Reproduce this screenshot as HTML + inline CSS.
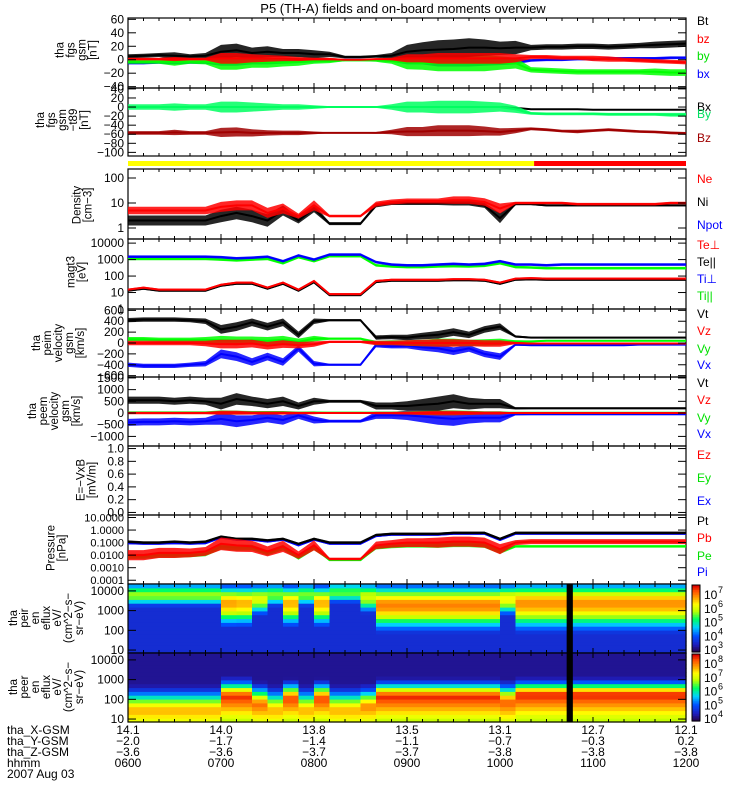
<!DOCTYPE html>
<html><head><meta charset="utf-8"><style>
html,body{margin:0;padding:0;background:#fff;}
svg{display:block;font-family:"Liberation Sans",sans-serif;}
</style></head><body>
<svg id="plot" width="750" height="800" viewBox="0 0 750 800" xmlns="http://www.w3.org/2000/svg">
<text x="403" y="13" font-size="13" text-anchor="middle">P5 (TH-A) fields and on-board moments overview</text>
<g id="layer"></g>
</svg>
<script>
// ---------- data (10-minute samples, minutes after 0600) ----------
const times=[0,10,20,30,40,50,60,70,80,90,100,110,120,130,140,150,160,170,180,190,200,210,220,230,240,250,260,270,280,290,300,310,320,330,340,350,360];
// fgs gsm [nT]
const fgsBt=[5,6,7,6,5,6,12,14,10,12,10,10,8,8,4,4,5,6,12,14,15,16,18,18,17,18,18,19,19,20,20,19,20,21,22,23,24];
const fgsBtSpread=[3,3,3,5,3,4,10,10,8,8,6,6,6,4,2,2,2,4,10,12,14,14,14,12,10,10,4,4,4,4,4,4,4,4,5,5,5];
const fgsBz=[1,1,1,1,1,1,2,2,2,2,2,1,1,1,0,0,1,1,2,2,2,2,2,2,2,2,4,4,3,3,2,1,0,-1,-2,-3,-4];
const fgsBzSpread=[2,2,2,3,2,2,8,8,6,5,4,3,2,2,1,1,1,2,6,6,8,8,8,8,8,6,3,3,3,3,4,4,3,3,3,3,3];
const fgsBy=[-3,-3,-3,-3,-3,-3,-5,-5,-4,-4,-4,-3,-2,-2,-1,-1,-1,-2,-4,-5,-5,-5,-5,-5,-5,-5,-15,-16,-17,-18,-18,-18,-18,-18,-18,-19,-19];
const fgsBySpread=[3,3,3,6,3,4,10,10,8,8,6,6,4,3,1,1,2,4,10,10,12,12,12,12,10,8,4,4,4,4,4,4,4,4,5,5,5];
const fgsBx=[-5,-5,-4,-4,-4,-4,-4,-4,-3,-3,-3,-2,-2,-1,0,0,0,-1,-2,-2,-3,-3,-3,-3,-3,-3,-1,0,0,1,1,2,2,2,2,3,3];
const fgsBxSpread=[2,2,2,3,2,2,5,5,4,4,3,3,2,2,1,1,1,2,5,5,7,7,7,6,5,4,2,2,2,2,2,2,2,2,2,2,2];
// fgs gsm - t89 [nT]
const t89Bx=[0,0,0,0,0,0,0,0,0,0,0,0,0,0,0,0,0,0,0,0,0,0,0,0,0,-2,-5,-5,-5,-5,-6,-6,-6,-6,-6,-6,-6];
const t89By=[0,0,0,0,0,0,0,0,0,0,0,0,0,0,0,0,0,0,0,0,0,0,0,0,0,-5,-14,-15,-15,-15,-15,-16,-16,-16,-16,-17,-17];
const t89BySpread=[6,6,6,8,6,6,12,12,10,8,6,6,4,2,1,1,2,6,12,12,14,14,14,12,10,8,3,3,3,3,3,3,3,3,3,4,4];
const t89Bz=[-57,-57,-57,-56,-57,-57,-56,-55,-57,-57,-57,-57,-57,-57,-57,-57,-57,-55,-54,-54,-52,-52,-52,-53,-55,-52,-48,-50,-53,-54,-52,-50,-52,-54,-55,-57,-58];
const t89BzSpread=[4,4,4,6,4,4,10,10,8,6,5,5,3,1,1,1,2,5,10,10,12,12,12,10,8,6,3,3,3,4,3,3,3,3,3,3,3];
// density [cm-3]
const densNe=[5,5,5,5,5,5,7,8,8,4,6,3,8,3,3,3,9,11,12,12,12,13,13,11,6,10,10,10,10,9,9,9,9,9,9,10,10];
const densNi=[2,2,2,2,2,2,3,4,3,2,5,2,6,1.5,1.5,1.5,8,10,10,10,10,10,10,8,2.5,9,9,8,8,8,8,8,8,8,8,8,8];
const densNeSpread=[0.15,0.15,0.15,0.15,0.15,0.15,0.2,0.2,0.2,0.2,0.2,0.1,0.2,0.05,0.05,0.05,0.1,0.1,0.1,0.1,0.1,0.15,0.15,0.15,0.2,0.05,0.05,0.05,0.05,0.05,0.05,0.05,0.05,0.05,0.05,0.05,0.05];
const densNiSpread=[0.2,0.2,0.2,0.2,0.2,0.2,0.25,0.25,0.25,0.25,0.2,0.12,0.15,0.06,0.06,0.06,0.08,0.08,0.08,0.08,0.08,0.1,0.1,0.1,0.2,0.04,0.04,0.04,0.04,0.04,0.04,0.04,0.04,0.04,0.04,0.04,0.04];
// temperatures [eV]
const tempTiPerp=[1500,1500,1500,1500,1500,1500,1400,1200,1300,1500,800,1800,1000,2000,2000,2000,700,500,450,450,500,550,500,550,800,500,500,450,500,500,500,500,500,500,500,500,500];
const tempTiPar=[1100,1100,1100,1100,1100,1100,1000,900,1000,1100,600,1400,800,1600,1600,1600,450,380,350,350,380,400,380,420,600,350,330,300,300,300,300,300,300,300,300,300,300];
const tempTePerp=[15,20,15,15,15,15,30,40,40,20,40,15,50,8,8,8,50,60,60,60,60,65,65,60,40,70,75,70,70,70,70,70,70,70,70,70,70];
const tempTePar=[13,17,13,13,13,13,26,34,34,17,34,13,42,7,7,7,43,52,52,52,52,56,56,52,34,60,63,60,60,60,60,60,60,60,60,60,60];
// peim velocity [km/s]
const peimVt=[420,430,430,430,420,400,250,300,380,300,380,150,400,420,420,420,100,110,100,130,150,200,150,250,300,120,100,100,100,100,100,100,100,100,100,100,100];
const peimVx=[-400,-420,-420,-420,-400,-380,-200,-250,-350,-250,-350,-100,-380,-400,-400,-400,-40,-60,-50,-80,-100,-150,-100,-200,-250,-30,-40,-40,-40,-40,-40,-40,-40,-30,-30,-30,-30];
const peimVy=[70,70,60,60,60,60,50,40,50,40,60,20,80,80,80,80,0,10,0,0,10,10,0,10,20,30,30,40,40,40,40,40,40,40,40,40,40];
const peimVz=[0,0,0,0,0,-10,-20,-20,-10,-50,-20,-40,-20,20,20,20,0,0,0,0,0,0,0,-10,-10,0,-10,-10,-10,-10,-10,-10,-10,-10,-10,-10,-10];
const peimSpread=[40,40,40,40,40,50,80,80,70,70,70,60,50,20,20,20,40,40,50,60,70,70,60,60,60,20,15,15,15,15,15,15,15,15,15,15,15];
// peem velocity [km/s]
const peemVt=[550,550,550,500,550,500,400,600,500,400,500,300,500,500,500,500,300,300,300,350,400,500,400,400,400,200,200,200,200,200,200,200,200,200,200,200,200];
const peemVx=[-400,-380,-380,-350,-380,-350,-250,-350,-300,-200,-300,-100,-300,-350,-350,-350,-100,-100,-100,-150,-200,-250,-200,-200,-200,-50,-50,-50,-50,-50,-50,-50,-50,-50,-50,-50,-50];
const peemVy=[20,20,20,20,20,20,30,20,20,20,20,10,20,20,20,20,10,10,10,10,10,10,10,10,10,10,10,10,10,10,10,10,10,10,10,10,10];
const peemVz=[0,0,0,0,0,0,10,10,0,0,0,0,0,0,0,0,0,0,0,0,0,0,0,0,0,0,0,0,0,0,0,0,0,0,0,0,0];
const peemSpread=[150,150,150,150,150,150,250,250,200,200,200,150,150,60,60,60,150,150,200,250,300,300,250,200,200,50,40,40,40,40,40,40,40,40,40,40,40];
// pressure [nPa]
const presPt=[0.12,0.1,0.1,0.12,0.1,0.12,0.3,0.2,0.2,0.15,0.2,0.08,0.2,0.1,0.1,0.1,0.4,0.5,0.5,0.5,0.5,0.6,0.6,0.6,0.2,0.6,0.6,0.6,0.6,0.6,0.6,0.6,0.6,0.6,0.6,0.6,0.6];
const presPi=[0.09,0.08,0.08,0.09,0.08,0.09,0.25,0.17,0.17,0.12,0.17,0.06,0.17,0.08,0.08,0.08,0.33,0.42,0.42,0.42,0.42,0.5,0.5,0.5,0.16,0.5,0.5,0.5,0.5,0.5,0.5,0.5,0.5,0.5,0.5,0.5,0.5];
const presPb=[0.01,0.01,0.015,0.015,0.015,0.02,0.08,0.06,0.05,0.02,0.05,0.01,0.06,0.005,0.005,0.005,0.06,0.08,0.1,0.1,0.1,0.12,0.12,0.1,0.03,0.1,0.12,0.12,0.12,0.12,0.12,0.12,0.12,0.12,0.12,0.12,0.12];
const presPe=[0.008,0.008,0.01,0.01,0.01,0.012,0.05,0.04,0.04,0.015,0.04,0.006,0.04,0.004,0.004,0.004,0.04,0.05,0.06,0.06,0.06,0.07,0.07,0.06,0.02,0.05,0.05,0.05,0.05,0.05,0.05,0.05,0.05,0.05,0.05,0.05,0.05];
const presSpread=[0.4,0.4,0.4,0.4,0.35,0.35,0.5,0.5,0.45,0.4,0.45,0.3,0.4,0.1,0.1,0.1,0.3,0.3,0.35,0.35,0.4,0.4,0.4,0.4,0.4,0.2,0.2,0.2,0.2,0.2,0.2,0.2,0.2,0.2,0.2,0.2,0.2];
// spectrograms: one column per 10-min interval
const ionPeak=[3.8,3.8,3.8,3.8,3.8,3.8,3.4,3.4,3.6,3.8,3.4,3.8,3.4,3.9,3.9,3.7,3.3,3.3,3.3,3.3,3.3,3.3,3.3,3.3,3.6,3.4,3.4,3.4,3.4,3.4,3.4,3.4,3.4,3.4,3.4,3.4];
const ionLoWidth=[0.5,0.5,0.5,0.5,0.5,0.5,1.0,1.0,0.7,0.5,1.0,0.5,1.0,0.45,0.45,0.7,1.1,1.1,1.1,1.1,1.1,1.1,1.1,1.1,0.7,1.2,1.2,1.2,1.2,1.2,1.2,1.2,1.2,1.2,1.2,1.2];
const ionHiWidth=[0.6,0.6,0.6,0.6,0.6,0.6,0.8,0.8,0.7,0.6,0.8,0.6,0.8,0.6,0.6,0.7,0.9,0.9,0.9,0.9,0.9,0.9,0.9,0.9,0.7,0.9,0.9,0.9,0.9,0.9,0.9,0.9,0.9,0.9,0.9,0.9];
const ionLevel=[0.6,0.6,0.6,0.6,0.6,0.6,0.82,0.8,0.68,0.58,0.8,0.58,0.8,0.55,0.55,0.65,0.86,0.86,0.86,0.86,0.86,0.86,0.86,0.86,0.72,0.84,0.84,0.84,0.84,0.84,0.84,0.84,0.84,0.84,0.84,0.84];
const elePeak=[1.4,1.4,1.4,1.4,1.4,1.4,2.1,2.1,1.7,1.4,2.0,1.4,2.0,1.4,1.4,1.6,2.1,2.1,2.1,2.1,2.1,2.1,2.1,2.1,1.8,2.2,2.2,2.2,2.2,2.2,2.2,2.2,2.2,2.2,2.2,2.2];
const eleHiWidth=[0.9,0.9,0.9,0.9,0.9,0.9,0.7,0.7,0.8,0.9,0.7,0.9,0.7,0.9,0.9,0.8,0.65,0.65,0.65,0.65,0.65,0.65,0.65,0.65,0.8,0.6,0.6,0.6,0.6,0.6,0.6,0.6,0.6,0.6,0.6,0.6];
const eleLevel=[0.8,0.8,0.8,0.8,0.8,0.8,0.95,0.95,0.88,0.8,0.93,0.8,0.93,0.8,0.8,0.85,0.96,0.96,0.96,0.96,0.96,0.96,0.96,0.96,0.9,0.97,0.97,0.97,0.97,0.97,0.97,0.97,0.97,0.97,0.97,0.97];
const gapStart=[283];
const gapEnd=[287];
// axes / labels
const hourLabels=["0600","0700","0800","0900","1000","1100","1200"];
const xGsm=["14.1","14.0","13.8","13.5","13.1","12.7","12.1"];
const yGsm=["\u22122.0","\u22121.7","\u22121.4","\u22121.1","\u22120.7","\u22120.3","0.2"];
const zGsm=["\u22123.6","\u22123.6","\u22123.7","\u22123.7","\u22123.8","\u22123.8","\u22123.8"];

// ---------- drawing ----------
const NS="http://www.w3.org/2000/svg";
const layer=document.getElementById('layer');
const X0=128,X1=686,TMAX=360;
function xs(t){return X0+(t/TMAX)*(X1-X0);}
function mk(tag,attrs,parent){const e=document.createElementNS(NS,tag);for(const k in attrs)e.setAttribute(k,attrs[k]);(parent||layer).appendChild(e);return e;}
function linScale(top,bot,vmax,vmin){return v=>top+(vmax-v)/(vmax-vmin)*(bot-top);}
function logScale(top,bot,lmax,lmin){return v=>top+(lmax-Math.log10(Math.max(v,1e-9)))/(lmax-lmin)*(bot-top);}

function frame(name,top,bot){
  const r=mk('rect',{x:X0,y:top,width:X1-X0,height:bot-top,fill:'none',stroke:'#000','stroke-width':1.2});
  
  
  for(let m=0;m<=TMAX;m+=10){
    const len=(m%60===0)?5:3;const x=xs(m);
    mk('line',{x1:x,y1:top,x2:x,y2:top+len,stroke:'#000','stroke-width':1});
    mk('line',{x1:x,y1:bot,x2:x,y2:bot-len,stroke:'#000','stroke-width':1});
  }
}
function yticks(name,ys,vals,labels,fs){
  const g=mk('g',{});
  
  
  vals.forEach((v,i)=>{const y=ys(v);
    mk('line',{x1:X0,y1:y,x2:X0+8,y2:y,stroke:'#000'},g);
    mk('line',{x1:X1,y1:y,x2:X1-8,y2:y,stroke:'#000'},g);
    const t=mk('text',{x:124,y:y+4,'font-size':fs||12,'text-anchor':'end'},g);t.textContent=labels[i];});
}
function ytitle(name,lines,cx,cy){
  const g=mk('g',{});
  
  
  const lh=11;
  lines.forEach((s,i)=>{const x=cx-(lines.length-1)/2*lh+i*lh+4;
    const t=mk('text',{x:x,y:cy,'font-size':11.5,'text-anchor':'middle',transform:`rotate(-90 ${x} ${cy})`},g);t.textContent=s;});
}
function legend(name,items){
  items.forEach(it=>{const t=mk('text',{x:697,y:it[2],'font-size':12,fill:it[1]});t.textContent=it[0];
    
    });
}
function series(name,vals,spread,ys,color,logSp){
  const g=mk('g',{});
  
  
  if(spread){
    const up=[],dn=[];
    vals.forEach((v,i)=>{const s=spread[i];
      const a=logSp?v*Math.pow(10,s):v+s, b=logSp?v/Math.pow(10,s):v-s;
      up.push(xs(times[i]).toFixed(1)+','+ys(a).toFixed(1));
      dn.unshift(xs(times[i]).toFixed(1)+','+ys(b).toFixed(1));});
    mk('polygon',{points:up.concat(dn).join(' '),fill:color,'fill-opacity':0.85,stroke:'none'},g);
  }
  const pts=vals.map((v,i)=>xs(times[i]).toFixed(1)+','+ys(v).toFixed(1)).join(' ');
  mk('polyline',{points:pts,fill:'none',stroke:color,'stroke-width':2},g);
}

// Panel 1: fgs gsm
{const top=18,bot=88,ys=linScale(top,bot,62,-42);
 frame('fgs',top,bot);
 series('fgs-bx-line',fgsBx,fgsBxSpread,ys,'#0000ff');
 series('fgs-by-line',fgsBy,fgsBySpread,ys,'#00ff00');
 series('fgs-bt-line',fgsBt,fgsBtSpread,ys,'#000000');
 series('fgs-bz-line',fgsBz,fgsBzSpread,ys,'#ff0000');
 yticks('fgs',ys,[60,40,20,0,-20,-40],['60','40','20','0','\u221220','\u221240']);
 ytitle('fgs',['tha','fgs','gsm','[nT]'],76,50);
 legend('fgs',[['Bt','#000',25],['bz','#ff0000',43],['by','#00e000',60],['bx','#0000ff',78]]);}
// Panel 2: gsm - t89
{const top=88,bot=156,ys=linScale(top,bot,42,-108);
 frame('fgs-t89',top,bot);
 series('t89-bx-line',t89Bx,null,ys,'#000000');
 series('t89-by-line',t89By,t89BySpread,ys,'#00ff60');
 series('t89-bz-line',t89Bz,t89BzSpread,ys,'#a00000');
 yticks('fgs-t89',ys,[40,20,0,-20,-40,-60,-80,-100],['40','20','0','\u221220','\u221240','\u221260','\u221280','\u2212100']);
 ytitle('fgs-t89',['tha','fgs','gsm','\u2212t89','[nT]'],62,120);
 legend('fgs-t89',[['Bx','#000',111],['By','#00e060',118],['Bz','#a00000',142]]);}
// mode bar
{const b1=mk('rect',{x:X0,y:161,width:xs(262)-X0,height:5,fill:'#ffff00'});
 
 
 const b2=mk('rect',{x:xs(262),y:161,width:X1-xs(262),height:5,fill:'#ff0000'});
 
 }
// Panel 3: density
{const top=169,bot=239,ys=logScale(top,bot,2.36,-0.44);
 frame('density',top,bot);
 series('density-ni-line',densNi,densNiSpread,ys,'#000000',true);
 series('density-ne-line',densNe,densNeSpread,ys,'#ff0000',true);
 yticks('density',ys,[100,10,1],['100','10','1']);
 ytitle('density',['Density','[cm\u22123]'],82,205);
 legend('density',[['Ne','#ff0000',183],['Ni','#000',206],['Npot','#0000ff',229]]);}
// Panel 4: temperature
{const top=239,bot=309,ys=logScale(top,bot,4.25,-0.0);
 frame('temperature',top,bot);
 series('temp-tipar-line',tempTiPar,tempTiPar.map(()=>0.08),ys,'#00ff00',true);
 series('temp-tiperp-line',tempTiPerp,tempTiPerp.map(()=>0.08),ys,'#0000ff',true);
 series('temp-tepar-line',tempTePar,tempTePar.map(()=>0.06),ys,'#000000',true);
 series('temp-teperp-line',tempTePerp,tempTePerp.map(()=>0.06),ys,'#ff0000',true);
 yticks('temperature',ys,[10000,1000,100,10,1],['10000','1000','100','10','1']);
 ytitle('temperature',['magt3','[eV]'],76,272);
 legend('temperature',[['Te\u22a5','#ff0000',249],['Te||','#000',266],['Ti\u22a5','#0000ff',283],['Ti||','#00e000',300]]);}
// Panel 5: peim velocity
{const top=309,bot=377,ys=linScale(top,bot,625,-625);
 frame('peim-velocity',top,bot);
 series('peim-vx-line',peimVx,peimSpread,ys,'#0000ff');
 series('peim-vy-line',peimVy,peimSpread,ys,'#00ff00');
 series('peim-vt-line',peimVt,peimSpread,ys,'#000000');
 series('peim-vz-line',peimVz,peimSpread,ys,'#ff0000');
 yticks('peim-velocity',ys,[600,400,200,0,-200,-400,-600],['600','400','200','0','\u2212200','\u2212400','\u2212600']);
 ytitle('peim-velocity',['tha','peim','velocity','gsm','[km/s]'],58,343);
 legend('peim',[['Vt','#000',318],['Vz','#ff0000',335],['Vy','#00e000',353],['Vx','#0000ff',369]]);}
// Panel 6: peem velocity
{const top=377,bot=446,ys=linScale(top,bot,1540,-1410);
 frame('peem-velocity',top,bot);
 series('peem-vx-line',peemVx,peemSpread,ys,'#0000ff');
 series('peem-vy-line',peemVy,peemSpread.map(s=>s/3),ys,'#00ff00');
 series('peem-vt-line',peemVt,peemSpread,ys,'#000000');
 series('peem-vz-line',peemVz,peemSpread.map(s=>s/3),ys,'#ff0000');
 yticks('peem-velocity',ys,[1500,1000,500,0,-500,-1000],['1500','1000','500','0','\u2212500','\u22121000']);
 ytitle('peem-velocity',['tha','peem','velocity','gsm','[km/s]'],54,411);
 legend('peem',[['Vt','#000',387],['Vz','#ff0000',404],['Vy','#00e000',422],['Vx','#0000ff',438]]);}
// Panel 7: E field
{const top=446,bot=515,ys=linScale(top,bot,1.04,-0.04);
 frame('efield',top,bot);
 yticks('efield',ys,[1,0.8,0.6,0.4,0.2,0],['1.0','0.8','0.6','0.4','0.2','0.0']);
 ytitle('efield',['E=\u2212VxB','[mV/m]'],86,480);
 legend('efield',[['Ez','#ff0000',459],['Ey','#00e000',482],['Ex','#0000ff',505]]);}
// Panel 8: pressure
{const top=515,bot=584,ys=logScale(top,bot,1.2,-4.3);
 frame('pressure',top,bot);
 series('pressure-pi-line',presPi,presPi.map(()=>0.08),ys,'#0000ff',true);
 series('pressure-pt-line',presPt,presPt.map(()=>0.1),ys,'#000000',true);
 series('pressure-pe-line',presPe,presSpread.map(s=>s*0.5),ys,'#00ff00',true);
 series('pressure-pb-line',presPb,presSpread,ys,'#ff0000',true);
 yticks('pressure',ys,[10,1,0.1,0.01,0.001,0.0001],['10.0000','1.0000','0.1000','0.0100','0.0010','0.0001'],11);
 ytitle('pressure',['Pressure','[nPa]'],56,548);
 legend('pressure',[['Pt','#000',525],['Pb','#ff0000',542],['Pe','#00e000',560],['Pi','#0000ff',576]]);}

// colormap
const cmStops=[[0,[40,0,60]],[0.12,[30,30,190]],[0.25,[0,80,255]],[0.38,[0,210,255]],[0.5,[0,255,100]],[0.62,[190,255,0]],[0.72,[255,255,0]],[0.82,[255,160,0]],[0.92,[255,80,0]],[1,[220,0,0]]];
function cmap(v){v=Math.max(0,Math.min(1,v));for(let i=1;i<cmStops.length;i++){if(v<=cmStops[i][0]){const a=cmStops[i-1],b=cmStops[i];const f=(v-a[0])/(b[0]-a[0]);const c=a[1].map((x,k)=>Math.round(x+(b[1][k]-x)*f));return `rgb(${c[0]},${c[1]},${c[2]})`;}}return 'rgb(220,0,0)';}
function spectro(name,top,bot,peak,loW,hiW,level,bg,loFlat){
  const g=mk('g',{});
  
  
  const NE=18,lmin=0.85,lmax=4.35;
  for(let c=0;c<peak.length;c++){
    const x0=xs(times[c]),x1=xs(times[c+1]);
    for(let r=0;r<NE;r++){
      const le=lmin+(r+0.5)*(lmax-lmin)/NE;
      const d=le-peak[c];
      let v;
      if(d<0&&loFlat){v=level[c]*(1-0.35*Math.min(1,-d/1.2));}
      else{const w=d<0?loW[c]:hiW[c];v=level[c]*Math.exp(-(d/w)*(d/w));}
      v=Math.max(v,bg);
      const y1=top+(bot-top)*(1-r/NE),y0=top+(bot-top)*(1-(r+1)/NE);
      mk('rect',{x:x0.toFixed(1),y:y0.toFixed(1),width:(x1-x0+0.6).toFixed(1),height:(y1-y0+0.6).toFixed(1),fill:cmap(v)},g);
    }
  }
  gapStart.forEach((s,i)=>{const gr=mk('rect',{x:xs(s),y:top,width:xs(gapEnd[i])-xs(s),height:bot-top,fill:'#000'},g);
    
    });
  frame(name,top,bot);
  const ys=v=>top+(bot-top)*(1-(Math.log10(v)-lmin)/(lmax-lmin));
  yticks(name,ys,[10000,1000,100,10],['10000','1000','100','10']);
}
spectro('peir',584,653,ionPeak,ionLoWidth,ionHiWidth,ionLevel,0.16,false);
ytitle('peir',['tha','peir','en','eflux','eV/','(cm^2\u2212s\u2212','sr\u2212eV)'],46,618);
spectro('peer',653,722,elePeak,eleHiWidth,eleHiWidth,eleLevel,0.08,true);
ytitle('peer',['tha','peer','en','eflux','eV/','(cm^2\u2212s\u2212','sr\u2212eV)'],46,687);

// colorbars
function cbar(name,top,bot,labels){
  const g=mk('g',{});
  
  
  const n=40;
  for(let i=0;i<n;i++){const y=top+(bot-top)*i/n;mk('rect',{x:692,y:y.toFixed(1),width:8,height:((bot-top)/n+0.6).toFixed(1),fill:cmap(1-i/n)},g);}
  mk('rect',{x:692,y:top,width:8,height:bot-top,fill:'none',stroke:'#000'},g);
  labels.forEach((l,i)=>{const y=top+9+i*(bot-top-12)/(labels.length-1);
    const t=mk('text',{x:704,y:y+5,'font-size':12},g);t.textContent='10';
    const s=mk('text',{x:718,y:y-1,'font-size':9},g);s.textContent=l;});
}
cbar('peir',585,652,['7','6','5','4','3']);
cbar('peer',654,721,['8','7','6','5','4']);

// bottom annotation
{const rows=[['tha_X-GSM',xGsm,734],['tha_Y-GSM',yGsm,745],['tha_Z-GSM',zGsm,756],['hhmm',hourLabels,767]];
 rows.forEach(r=>{const t=mk('text',{x:7,y:r[2],'font-size':12});t.textContent=r[0];
   
   
   r[1].forEach((v,i)=>{const tt=mk('text',{x:xs(i*60),y:r[2],'font-size':12,'text-anchor':'middle'});tt.textContent=v;});});
 const d=mk('text',{x:7,y:778,'font-size':12});d.textContent='2007 Aug 03';
 
 }
</script>
</body></html>
